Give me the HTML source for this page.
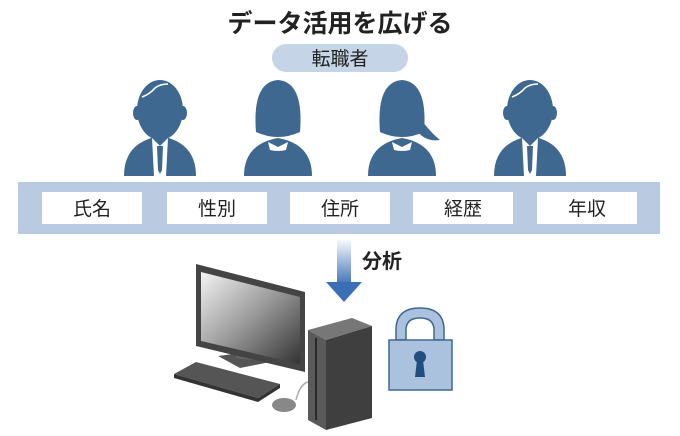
<!DOCTYPE html><html><head><meta charset="utf-8"><style>body{margin:0;background:#fff}svg{display:block}text{font-family:"Liberation Sans","Noto Sans CJK JP",sans-serif}</style></head><body>
<svg width="680" height="436" viewBox="0 0 680 436">
<defs><linearGradient id="ag" x1="0" y1="0" x2="0" y2="1"><stop offset="0" stop-color="#fff"/><stop offset="1" stop-color="#3a6fb5"/></linearGradient>
<linearGradient id="sc" x1="0" y1="0" x2="1" y2="1"><stop offset="0" stop-color="#f4f4f4"/><stop offset="0.5" stop-color="#999"/><stop offset="1" stop-color="#333"/></linearGradient></defs>
<text x="340" y="32" font-size="25" font-weight="bold" text-anchor="middle" fill="#222">データ活用を広げる</text>
<rect x="272" y="44" width="136" height="28" rx="14" fill="#c6d4e7"/>
<text x="340" y="65" font-size="19" text-anchor="middle" fill="#222">転職者</text>
<g fill="#3f6891">
<!-- man1 -->
<path d="M124 176 Q124 142 160 136 Q196 142 196 176Z"/><ellipse cx="160" cy="110" rx="23" ry="30"/><ellipse cx="137" cy="113" rx="4" ry="7"/><ellipse cx="183" cy="113" rx="4" ry="7"/>
<!-- woman1 -->
<path d="M244 176 Q244 144 278 138 Q312 144 312 176Z"/><path d="M256 132 Q252 82 278 80 Q304 82 300 132 Q278 142 256 132Z"/>
<!-- woman2 -->
<path d="M368 176 Q368 144 402 138 Q436 144 436 176Z"/><path d="M380 132 Q376 82 402 80 Q428 82 424 132 Q402 142 380 132Z"/><path d="M420 118 Q430 132 440 140 Q426 142 418 132Z"/>
<!-- man2 -->
<path d="M494 176 Q494 142 530 136 Q566 142 566 176Z"/><ellipse cx="530" cy="110" rx="23" ry="30"/><ellipse cx="507" cy="113" rx="4" ry="7"/><ellipse cx="553" cy="113" rx="4" ry="7"/>
</g>
<g fill="#fff"><path d="M152 138 L160 146 L168 138 L166 176 L154 176Z"/><path d="M522 138 L530 146 L538 138 L536 176 L524 176Z"/>
<path d="M268 142 L278 147 L288 142 L286 150 Q278 152 270 150Z"/><path d="M392 142 L402 147 L412 142 L410 150 Q402 152 394 150Z"/></g>
<g fill="#3f6891"><path d="M157 146 L163 146 L162 170 L160 174 L158 170Z"/><path d="M527 146 L533 146 L532 170 L530 174 L528 170Z"/></g>
<path d="M142 97 Q150 94 155 88 Q160 84 168 84" stroke="#fff" stroke-width="1.6" fill="none"/>
<path d="M512 97 Q520 94 525 88 Q530 84 538 84" stroke="#fff" stroke-width="1.6" fill="none"/>
<rect x="18" y="182" width="642" height="52" fill="#b9cae1"/>
<g fill="#fff"><rect x="42" y="192" width="100" height="32"/><rect x="167" y="192" width="100" height="32"/><rect x="290" y="192" width="100" height="32"/><rect x="413" y="192" width="100" height="32"/><rect x="537" y="192" width="100" height="32"/></g>
<g font-size="19" text-anchor="middle" fill="#222"><text x="92" y="215">氏名</text><text x="217" y="215">性別</text><text x="340" y="215">住所</text><text x="463" y="215">経歴</text><text x="587" y="215">年収</text></g>
<rect x="337" y="238" width="14" height="48" fill="url(#ag)"/>
<path d="M326 282 L362 282 L344 302Z" fill="#3a6fb5"/>
<text x="362" y="268" font-size="20" font-weight="bold" fill="#222">分析</text>
<!-- computer -->
<path d="M218 356 L248 352 L270 362 L240 368Z" fill="#555"/>
<path d="M236 340 L252 342 L252 360 L236 358Z" fill="#666"/>
<path d="M196 264 L305 292 L305 372 L196 346Z" fill="#444"/>
<path d="M201 272 L300 297 L300 364 L201 341Z" fill="url(#sc)"/>
<path d="M174 374 L196 362 L280 384 L258 398Z" fill="#555"/>
<path d="M258 398 L280 384 L280 388 L258 402 L174 378 L174 374Z" fill="#333"/>
<path d="M296 400 Q300 384 308 382" stroke="#aaa" stroke-width="1.5" fill="none"/>
<ellipse cx="284" cy="405" rx="12" ry="7" fill="#888"/>
<path d="M308 330 L352 318 L372 326 L326 340Z" fill="#777"/>
<path d="M308 330 L326 340 L326 430 L308 420Z" fill="#5a5a5a"/>
<path d="M326 340 L372 326 L372 418 L326 430Z" fill="#3f3f3f"/>
<line x1="316" y1="338" x2="316" y2="420" stroke="#2a2a2a" stroke-width="2"/>
<!-- lock -->
<path d="M396 340 L396 330 Q396 308 420 308 Q444 308 444 330 L444 340 L434 340 L434 330 Q434 318 420 318 Q406 318 406 330 L406 340Z" fill="#aac2de" stroke="#3f6891" stroke-width="1.5"/>
<rect x="389" y="340" width="63" height="50" fill="#aac2de" stroke="#3f6891" stroke-width="1.5"/>
<circle cx="420" cy="357" r="6" fill="#1f4f80"/><path d="M417 360 L423 360 L425 377 L415 377Z" fill="#1f4f80"/>
</svg></body></html>
